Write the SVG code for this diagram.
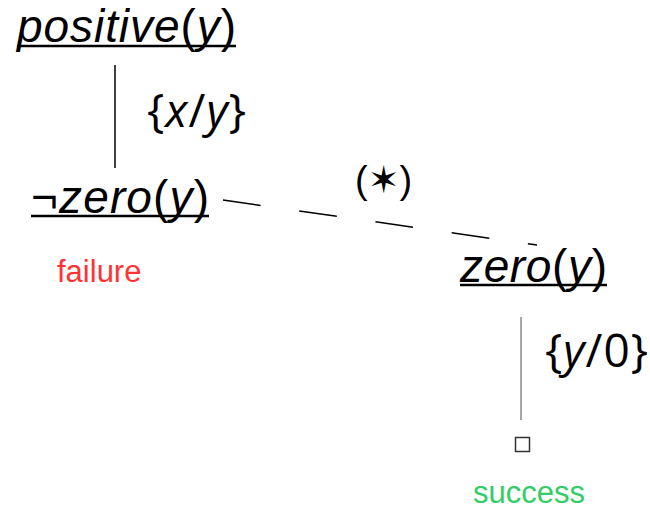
<svg xmlns="http://www.w3.org/2000/svg" width="650" height="509" viewBox="0 0 650 509">
<style>
.term{font-family:"Liberation Sans",Arial,sans-serif;font-size:46px;fill:#000;font-style:italic}
.up{font-style:normal}
.star{font-family:"Liberation Sans","DejaVu Sans",sans-serif;font-size:38px;fill:#000}
.sub{font-family:"Open Sans","Liberation Sans",sans-serif;font-size:46px;fill:#000}
.ul{stroke:#000;stroke-width:2.5}
.lbl{font-family:"Liberation Sans",Arial,sans-serif;font-size:31px}
</style>
<rect width="650" height="509" fill="#fff"/>
<g id="connectors" fill="none">
<line x1="115" y1="65" x2="115" y2="168" stroke="#000" stroke-width="1.5"/>
<line x1="223" y1="200" x2="537" y2="245" stroke="#000" stroke-width="1.5" stroke-dasharray="38 39"/>
<line x1="521" y1="317" x2="521" y2="420" stroke="#888" stroke-width="1.5"/>
</g>
<g id="n-positive">
<text class="term" x="17" y="42" textLength="219" lengthAdjust="spacing">positive<tspan class="up">(</tspan>y<tspan class="up">)</tspan></text>
<line class="ul" x1="17" y1="46" x2="236" y2="46"/>
</g>
<g id="subst-xy">
<text class="sub" x="147" y="127" textLength="99" lengthAdjust="spacing">{<tspan font-style="italic">x</tspan>/<tspan font-style="italic">y</tspan>}</text>
</g>
<g id="n-notzero">
<text class="term" x="31" y="213" textLength="178" lengthAdjust="spacing"><tspan class="up">¬</tspan>zero<tspan class="up">(</tspan>y<tspan class="up">)</tspan></text>
<line class="ul" x1="31" y1="216" x2="209" y2="216"/>
<text class="lbl" x="57" y="282" fill="#ff3333">failure</text>
</g>
<g id="star-label">
<text class="star" x="355" y="193">(✶)</text>
</g>
<g id="n-zero">
<text class="term" x="460" y="282" textLength="147" lengthAdjust="spacing">zero<tspan class="up">(</tspan>y<tspan class="up">)</tspan></text>
<line class="ul" x1="460" y1="285" x2="607" y2="285"/>
</g>
<g id="subst-y0">
<text class="sub" x="545" y="367" textLength="103" lengthAdjust="spacing">{<tspan font-style="italic">y</tspan>/0}</text>
</g>
<g id="n-empty">
<rect x="515.5" y="437.5" width="14" height="14" fill="none" stroke="#333" stroke-width="1.5"/>
<text class="lbl" x="473" y="503" fill="#33cc66">success</text>
</g>
</svg>
